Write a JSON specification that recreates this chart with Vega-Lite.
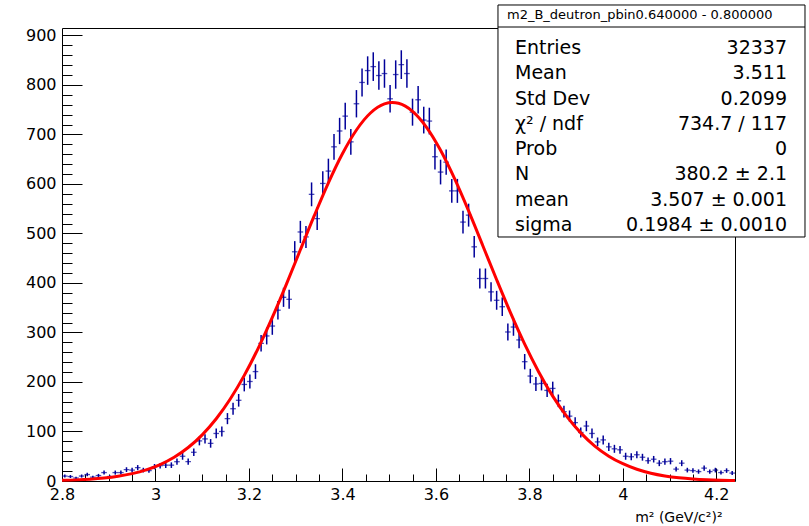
{
  "$schema": "https://vega.github.io/schema/vega-lite/v6.json",
  "width": 673,
  "height": 453,
  "autosize": "none",
  "padding": {"left": 62, "top": 28, "right": 74, "bottom": 45},
  "background": "white",
  "config": {"view": {"stroke": "#000", "strokeWidth": 1}, "font": "DejaVu Sans"},
  "datasets": {
    "hist": [
      {"x": 2.806, "n": 10, "e": 3.16}, {"x": 2.818, "n": 9, "e": 3.0}, {"x": 2.830, "n": 6, "e": 2.45}, {"x": 2.842, "n": 10, "e": 3.16},
      {"x": 2.854, "n": 13, "e": 3.61}, {"x": 2.866, "n": 8, "e": 2.83}, {"x": 2.878, "n": 11, "e": 3.32}, {"x": 2.890, "n": 17, "e": 4.12},
      {"x": 2.902, "n": 9, "e": 3.0}, {"x": 2.914, "n": 17, "e": 4.12}, {"x": 2.926, "n": 17, "e": 4.12}, {"x": 2.938, "n": 23, "e": 4.8},
      {"x": 2.950, "n": 22, "e": 4.69}, {"x": 2.962, "n": 27, "e": 5.2}, {"x": 2.974, "n": 22, "e": 4.69}, {"x": 2.986, "n": 21, "e": 4.58},
      {"x": 2.998, "n": 29, "e": 5.39}, {"x": 3.010, "n": 31, "e": 5.57}, {"x": 3.022, "n": 32, "e": 5.66}, {"x": 3.034, "n": 32, "e": 5.66},
      {"x": 3.046, "n": 39, "e": 6.24}, {"x": 3.058, "n": 50, "e": 7.07}, {"x": 3.070, "n": 39, "e": 6.24}, {"x": 3.082, "n": 58, "e": 7.62},
      {"x": 3.094, "n": 81, "e": 9.0}, {"x": 3.106, "n": 85, "e": 9.22}, {"x": 3.118, "n": 76, "e": 8.72}, {"x": 3.130, "n": 96, "e": 9.8},
      {"x": 3.142, "n": 100, "e": 10.0}, {"x": 3.154, "n": 126, "e": 11.22}, {"x": 3.166, "n": 146, "e": 12.08}, {"x": 3.178, "n": 163, "e": 12.77},
      {"x": 3.190, "n": 195, "e": 13.96}, {"x": 3.202, "n": 201, "e": 14.18}, {"x": 3.214, "n": 221, "e": 14.87}, {"x": 3.226, "n": 278, "e": 16.67},
      {"x": 3.238, "n": 293, "e": 17.12}, {"x": 3.250, "n": 313, "e": 17.69}, {"x": 3.262, "n": 345, "e": 18.57}, {"x": 3.274, "n": 371, "e": 19.26},
      {"x": 3.286, "n": 367, "e": 19.16}, {"x": 3.298, "n": 463, "e": 21.52}, {"x": 3.310, "n": 503, "e": 22.43}, {"x": 3.322, "n": 493, "e": 22.2},
      {"x": 3.334, "n": 579, "e": 24.06}, {"x": 3.346, "n": 530, "e": 23.02}, {"x": 3.358, "n": 601, "e": 24.52}, {"x": 3.370, "n": 626, "e": 25.02},
      {"x": 3.382, "n": 675, "e": 25.98}, {"x": 3.394, "n": 707, "e": 26.59}, {"x": 3.406, "n": 737, "e": 27.15}, {"x": 3.418, "n": 685, "e": 26.17},
      {"x": 3.430, "n": 762, "e": 27.6}, {"x": 3.442, "n": 805, "e": 28.37}, {"x": 3.454, "n": 829, "e": 28.79}, {"x": 3.466, "n": 837, "e": 28.93},
      {"x": 3.478, "n": 819, "e": 28.62}, {"x": 3.490, "n": 823, "e": 28.69}, {"x": 3.502, "n": 772, "e": 27.78}, {"x": 3.514, "n": 821, "e": 28.65},
      {"x": 3.526, "n": 841, "e": 29.0}, {"x": 3.538, "n": 823, "e": 28.69}, {"x": 3.550, "n": 745, "e": 27.29}, {"x": 3.562, "n": 770, "e": 27.75},
      {"x": 3.574, "n": 729, "e": 27.0}, {"x": 3.586, "n": 727, "e": 26.96}, {"x": 3.598, "n": 655, "e": 25.59}, {"x": 3.610, "n": 624, "e": 24.98},
      {"x": 3.622, "n": 644, "e": 25.38}, {"x": 3.634, "n": 586, "e": 24.21}, {"x": 3.646, "n": 586, "e": 24.21}, {"x": 3.658, "n": 523, "e": 22.87},
      {"x": 3.670, "n": 537, "e": 23.17}, {"x": 3.682, "n": 473, "e": 21.75}, {"x": 3.694, "n": 409, "e": 20.22}, {"x": 3.706, "n": 409, "e": 20.22},
      {"x": 3.718, "n": 382, "e": 19.54}, {"x": 3.730, "n": 365, "e": 19.1}, {"x": 3.742, "n": 352, "e": 18.76}, {"x": 3.754, "n": 301, "e": 17.35},
      {"x": 3.766, "n": 311, "e": 17.64}, {"x": 3.778, "n": 285, "e": 16.88}, {"x": 3.790, "n": 241, "e": 15.52}, {"x": 3.802, "n": 212, "e": 14.56},
      {"x": 3.814, "n": 196, "e": 14.0}, {"x": 3.826, "n": 197, "e": 14.04}, {"x": 3.838, "n": 183, "e": 13.53}, {"x": 3.850, "n": 187, "e": 13.67},
      {"x": 3.862, "n": 162, "e": 12.73}, {"x": 3.874, "n": 140, "e": 11.83}, {"x": 3.886, "n": 131, "e": 11.45}, {"x": 3.898, "n": 118, "e": 10.86},
      {"x": 3.910, "n": 98, "e": 9.9}, {"x": 3.922, "n": 111, "e": 10.54}, {"x": 3.934, "n": 96, "e": 9.8}, {"x": 3.946, "n": 79, "e": 8.89},
      {"x": 3.958, "n": 83, "e": 9.11}, {"x": 3.970, "n": 69, "e": 8.31}, {"x": 3.982, "n": 65, "e": 8.06}, {"x": 3.994, "n": 63, "e": 7.94},
      {"x": 4.006, "n": 50, "e": 7.07}, {"x": 4.018, "n": 49, "e": 7.0}, {"x": 4.030, "n": 53, "e": 7.28}, {"x": 4.042, "n": 48, "e": 6.93},
      {"x": 4.054, "n": 41, "e": 6.4}, {"x": 4.066, "n": 44, "e": 6.63}, {"x": 4.078, "n": 36, "e": 6.0}, {"x": 4.090, "n": 39, "e": 6.24},
      {"x": 4.102, "n": 40, "e": 6.32}, {"x": 4.114, "n": 24, "e": 4.9}, {"x": 4.126, "n": 36, "e": 6.0}, {"x": 4.138, "n": 22, "e": 4.69},
      {"x": 4.150, "n": 21, "e": 4.58}, {"x": 4.162, "n": 19, "e": 4.36}, {"x": 4.174, "n": 26, "e": 5.1}, {"x": 4.186, "n": 19, "e": 4.36},
      {"x": 4.198, "n": 22, "e": 4.69}, {"x": 4.210, "n": 17, "e": 4.12}, {"x": 4.222, "n": 21, "e": 4.58}, {"x": 4.234, "n": 16, "e": 4.0}
    ],
    "fit": [
      {"x": 2.80, "f": 1.34}, {"x": 2.83, "f": 2.27}, {"x": 2.86, "f": 3.75}, {"x": 2.89, "f": 6.07}, {"x": 2.92, "f": 9.6},
      {"x": 2.95, "f": 14.86}, {"x": 2.98, "f": 22.45}, {"x": 3.01, "f": 33.18}, {"x": 3.04, "f": 47.9}, {"x": 3.07, "f": 67.58},
      {"x": 3.10, "f": 93.24}, {"x": 3.13, "f": 125.7}, {"x": 3.16, "f": 165.6}, {"x": 3.19, "f": 213.3}, {"x": 3.22, "f": 268.5},
      {"x": 3.25, "f": 330.4}, {"x": 3.28, "f": 397.3}, {"x": 3.31, "f": 467.0}, {"x": 3.34, "f": 536.4}, {"x": 3.37, "f": 602.3},
      {"x": 3.40, "f": 661.0}, {"x": 3.43, "f": 709.0}, {"x": 3.46, "f": 743.3}, {"x": 3.49, "f": 761.7}, {"x": 3.507, "f": 764.5},
      {"x": 3.52, "f": 762.9}, {"x": 3.55, "f": 746.7}, {"x": 3.58, "f": 714.5}, {"x": 3.61, "f": 668.1}, {"x": 3.64, "f": 610.7},
      {"x": 3.67, "f": 545.5}, {"x": 3.70, "f": 476.3}, {"x": 3.73, "f": 406.5}, {"x": 3.76, "f": 339.0}, {"x": 3.79, "f": 276.4},
      {"x": 3.82, "f": 220.3}, {"x": 3.85, "f": 171.5}, {"x": 3.88, "f": 130.6}, {"x": 3.91, "f": 97.2}, {"x": 3.94, "f": 70.6},
      {"x": 3.97, "f": 50.2}, {"x": 4.00, "f": 34.9}, {"x": 4.03, "f": 23.7}, {"x": 4.06, "f": 15.7}, {"x": 4.09, "f": 10.2},
      {"x": 4.12, "f": 6.46}, {"x": 4.15, "f": 4.0}, {"x": 4.18, "f": 2.42}, {"x": 4.21, "f": 1.44}, {"x": 4.24, "f": 0.83}
    ],
    "stats": [
      {"row": 1, "label": "Entries", "value": "32337"},
      {"row": 2, "label": "Mean", "value": "3.511"},
      {"row": 3, "label": "Std Dev", "value": "0.2099"},
      {"row": 4, "label": "χ² / ndf", "value": "734.7 / 117"},
      {"row": 5, "label": "Prob", "value": "0"},
      {"row": 6, "label": "N", "value": "380.2 ± 2.1"},
      {"row": 7, "label": "mean", "value": "3.507 ± 0.001"},
      {"row": 8, "label": "sigma", "value": "0.1984 ± 0.0010"}
    ]
  },
  "layer": [
    {
      "layer": [
        {
          "data": {"name": "hist"},
          "mark": {"type": "tick", "orient": "horizontal", "size": 5.6, "thickness": 1.3, "color": "#000099"},
          "encoding": {
            "x": {"field": "x", "type": "quantitative",
              "scale": {"domain": [2.8, 4.24], "nice": false, "zero": false},
              "axis": {"orient": "bottom", "values": [2.8, 3, 3.2, 3.4, 3.6, 3.8, 4, 4.2], "format": "~g",
                "tickSize": -13, "tickColor": "#000", "tickWidth": 1, "domain": false, "grid": false,
                "labelPadding": 18, "labelFont": "DejaVu Sans", "labelFontSize": 16, "labelColor": "#000",
                "labelFlush": false, "labelOverlap": false,
                "title": "m² (GeV/c²)²", "titleFont": "DejaVu Sans", "titleFontSize": 14, "titleFontWeight": "normal",
                "titleColor": "#000", "titleAlign": "right", "titleBaseline": "alphabetic", "titleX": 660, "titleY": 40, "titleAngle": 0}},
            "y": {"field": "n", "type": "quantitative",
              "scale": {"domain": [0, 915], "nice": false, "zero": false},
              "axis": {"orient": "left", "values": [0, 100, 200, 300, 400, 500, 600, 700, 800, 900],
                "tickSize": -20, "tickColor": "#000", "tickWidth": 1, "domain": false, "grid": false,
                "labelPadding": 26, "labelFont": "DejaVu Sans", "labelFontSize": 16, "labelColor": "#000",
                "labelFlush": false, "labelOverlap": false, "title": null}}
          }
        },
        {
          "data": {"name": "hist"},
          "mark": {"type": "errorbar", "color": "#000099", "thickness": 1.5},
          "encoding": {
            "x": {"field": "x", "type": "quantitative", "scale": {"domain": [2.8, 4.24], "nice": false, "zero": false}, "axis": null},
            "y": {"field": "n", "type": "quantitative", "scale": {"domain": [0, 915], "nice": false, "zero": false}, "axis": null},
            "yError": {"field": "e"}
          }
        },
        {
          "data": {"name": "fit"},
          "mark": {"type": "line", "color": "#ff0000", "strokeWidth": 3, "interpolate": "monotone"},
          "encoding": {
            "x": {"field": "x", "type": "quantitative",
              "scale": {"domain": [2.8, 4.24], "nice": false, "zero": false},
              "axis": {"orient": "bottom", "values": [2.85, 2.9, 2.95, 3.05, 3.1, 3.15, 3.25, 3.3, 3.35, 3.45, 3.5, 3.55, 3.65, 3.7, 3.75, 3.85, 3.9, 3.95, 4.05, 4.1, 4.15],
                "tickSize": -7, "tickColor": "#000", "tickWidth": 1, "domain": false, "grid": false, "labels": false, "title": null}},
            "y": {"field": "f", "type": "quantitative",
              "scale": {"domain": [0, 915], "nice": false, "zero": false},
              "axis": {"orient": "left", "values": [20, 40, 60, 80, 120, 140, 160, 180, 220, 240, 260, 280, 320, 340, 360, 380, 420, 440, 460, 480, 520, 540, 560, 580, 620, 640, 660, 680, 720, 740, 760, 780, 820, 840, 860, 880],
                "tickSize": -10, "tickColor": "#000", "tickWidth": 1, "domain": false, "grid": false, "labels": false, "title": null}}
          }
        }
      ],
      "resolve": {"axis": {"x": "independent", "y": "independent"}}
    },
    {
      "layer": [
        {
          "data": {"values": [{}]},
          "mark": {"type": "rect", "fill": "white", "stroke": "#000", "strokeWidth": 1},
          "encoding": {
            "x": {"datum": 0.6478, "type": "quantitative", "scale": {"domain": [0, 1], "nice": false, "zero": false}, "axis": null},
            "x2": {"datum": 1.104},
            "y": {"datum": -0.7, "type": "quantitative", "scale": {"domain": [0.2095, 18.115], "nice": false, "zero": false, "reverse": true}, "axis": null},
            "y2": {"datum": 8.47}
          }
        },
        {
          "data": {"values": [{}]},
          "mark": {"type": "rule", "stroke": "#000", "strokeWidth": 1},
          "encoding": {
            "x": {"datum": 0.6478, "type": "quantitative"},
            "x2": {"datum": 1.104},
            "y": {"datum": 0.17, "type": "quantitative"}
          }
        },
        {
          "data": {"values": [{}]},
          "mark": {"type": "text", "align": "left", "baseline": "middle", "font": "DejaVu Sans", "fontSize": 13, "color": "#000"},
          "encoding": {
            "x": {"datum": 0.6612, "type": "quantitative"},
            "y": {"datum": -0.285, "type": "quantitative"},
            "text": {"value": "m2_B_deutron_pbin0.640000 - 0.800000"}
          }
        },
        {
          "data": {"name": "stats"},
          "mark": {"type": "text", "align": "left", "baseline": "middle", "font": "DejaVu Sans", "fontSize": 19, "color": "#000"},
          "encoding": {
            "x": {"datum": 0.6731, "type": "quantitative"},
            "y": {"field": "row", "type": "quantitative"},
            "text": {"field": "label"}
          }
        },
        {
          "data": {"name": "stats"},
          "mark": {"type": "text", "align": "right", "baseline": "middle", "font": "DejaVu Sans", "fontSize": 19, "color": "#000"},
          "encoding": {
            "x": {"datum": 1.0773, "type": "quantitative"},
            "y": {"field": "row", "type": "quantitative"},
            "text": {"field": "value"}
          }
        }
      ]
    }
  ],
  "resolve": {"scale": {"x": "independent", "y": "independent"}}
}
